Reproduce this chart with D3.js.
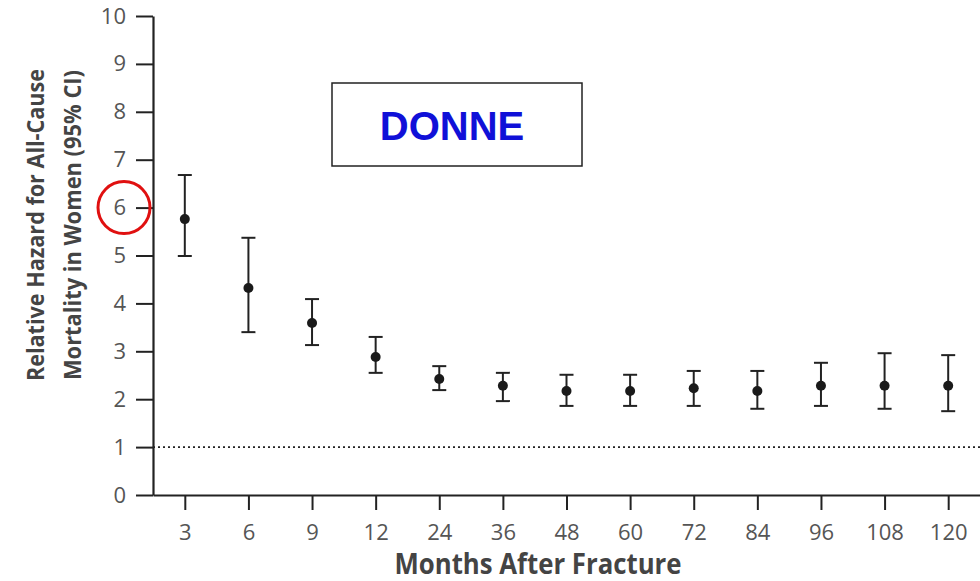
<!DOCTYPE html>
<html>
<head>
<meta charset="utf-8">
<script src="https://cdn.jsdelivr.net/npm/d3@7"></script>
<style>
  html, body { margin: 0; padding: 0; background: #fff; }
  svg { display: block; }
</style>
</head>
<body>
<div class="canvas"></div>
<script>
// data
const months = ["3", "6", "9", "12", "24", "36", "48", "60", "72", "84", "96", "108", "120"];
const hazard = [5.76, 4.32, 3.59, 2.88, 2.42, 2.28, 2.17, 2.17, 2.23, 2.17, 2.28, 2.28, 2.28];
const lower = [4.99, 3.40, 3.13, 2.55, 2.19, 1.96, 1.86, 1.86, 1.86, 1.80, 1.86, 1.80, 1.75];
const upper = [6.68, 5.37, 4.09, 3.30, 2.69, 2.55, 2.51, 2.51, 2.59, 2.59, 2.76, 2.96, 2.92];
const yTicks = [0, 1, 2, 3, 4, 5, 6, 7, 8, 9, 10];
const refValue = 1;
const circledValue = 6;
const label = "DONNE";

// dimensions
const w = 980;
const h = 581;
const axisX = 153;
const axisY = 495;
const topY = 16;

const svg = d3.select(".canvas").append("svg").attr("width", w).attr("height", h);

// scales
const xScale = d3.scalePoint().domain(months).range([axisX, w]).padding(0.5);
const yScale = d3.scaleLinear().domain([0, 10]).range([axisY, topY]);

const rows = months.map((m, i) => ({ m, v: hazard[i], lo: lower[i], hi: upper[i] }));

// reference line at 1
svg
  .append("line")
  .attr("x1", axisX)
  .attr("x2", w)
  .attr("y1", yScale(refValue))
  .attr("y2", yScale(refValue))
  .attr("stroke", "#222")
  .attr("stroke-width", 1.6)
  .attr("stroke-dasharray", "2,3");

// x-axis
const xAxis = d3.axisBottom(xScale).tickSize(15).tickPadding(14).tickSizeOuter(0);
const gx = svg
  .append("g")
  .attr("id", "x-axis")
  .attr("transform", `translate(0, ${axisY})`)
  .call(xAxis);
gx.select(".domain").attr("stroke", "#222").attr("stroke-width", 2.2);
gx.selectAll(".tick line").attr("stroke", "#222").attr("stroke-width", 2);
gx.selectAll(".tick text")
  .attr("font-family", "Open Sans")
  .attr("font-size", 22)
  .attr("fill", "#555");

// y-axis
const yAxis = d3.axisLeft(yScale).tickValues(yTicks).tickSize(17).tickPadding(10).tickSizeOuter(0);
const gy = svg
  .append("g")
  .attr("id", "y-axis")
  .attr("transform", `translate(${axisX}, 0)`)
  .call(yAxis);
gy.select(".domain").attr("stroke", "#222").attr("stroke-width", 2.2);
gy.selectAll(".tick line").attr("stroke", "#222").attr("stroke-width", 2);
gy.selectAll(".tick text")
  .attr("font-family", "Open Sans")
  .attr("font-size", 22)
  .attr("fill", "#555");

// error bars
const bars = svg.append("g").attr("id", "bars");
bars
  .selectAll("line.whisker")
  .data(rows)
  .enter()
  .append("line")
  .attr("class", "whisker")
  .attr("x1", (d) => xScale(d.m))
  .attr("x2", (d) => xScale(d.m))
  .attr("y1", (d) => yScale(d.lo))
  .attr("y2", (d) => yScale(d.hi))
  .attr("stroke", "#222")
  .attr("stroke-width", 2);

["lo", "hi"].forEach((k) => {
  bars
    .selectAll(`line.cap-${k}`)
    .data(rows)
    .enter()
    .append("line")
    .attr("class", `cap-${k}`)
    .attr("x1", (d) => xScale(d.m) - 7)
    .attr("x2", (d) => xScale(d.m) + 7)
    .attr("y1", (d) => yScale(d[k]))
    .attr("y2", (d) => yScale(d[k]))
    .attr("stroke", "#222")
    .attr("stroke-width", 2);
});

// points
svg
  .selectAll("circle.dot")
  .data(rows)
  .enter()
  .append("circle")
  .attr("class", "dot")
  .attr("cx", (d) => xScale(d.m))
  .attr("cy", (d) => yScale(d.v))
  .attr("r", 5)
  .attr("fill", "#1a1a1a");

// red circle round the 6 tick
svg
  .append("circle")
  .attr("cx", 124)
  .attr("cy", yScale(circledValue))
  .attr("r", 26)
  .attr("fill", "none")
  .attr("stroke", "#e01010")
  .attr("stroke-width", 3);

// label box
svg
  .append("rect")
  .attr("x", 332)
  .attr("y", 83)
  .attr("width", 250)
  .attr("height", 83)
  .attr("fill", "#fff")
  .attr("stroke", "#222")
  .attr("stroke-width", 1.5);
svg
  .append("text")
  .attr("x", 452)
  .attr("y", 140)
  .attr("text-anchor", "middle")
  .attr("font-family", "Liberation Sans")
  .attr("font-weight", "bold")
  .attr("font-size", 40)
  .attr("fill", "#1010d8")
  .text(label);

// axis titles (the original face is condensed, so squeeze to the measured length)
svg
  .append("text")
  .attr("x", 538)
  .attr("y", 574)
  .attr("text-anchor", "middle")
  .attr("font-family", "Open Sans")
  .attr("font-weight", "bold")
  .attr("font-size", 29)
  .attr("textLength", 287)
  .attr("lengthAdjust", "spacingAndGlyphs")
  .attr("fill", "#444")
  .text("Months After Fracture");

const yTitle = svg
  .append("text")
  .attr("transform", "translate(0, 225) rotate(-90)")
  .attr("text-anchor", "middle")
  .attr("font-family", "Open Sans")
  .attr("font-weight", "bold")
  .attr("font-size", 23)
  .attr("fill", "#444");
yTitle
  .append("tspan")
  .attr("x", 0)
  .attr("y", 44)
  .attr("textLength", 312)
  .attr("lengthAdjust", "spacingAndGlyphs")
  .text("Relative Hazard for All-Cause");
yTitle
  .append("tspan")
  .attr("x", 0)
  .attr("y", 81)
  .attr("textLength", 310)
  .attr("lengthAdjust", "spacingAndGlyphs")
  .text("Mortality in Women (95% CI)");
</script>
</body>
</html>
